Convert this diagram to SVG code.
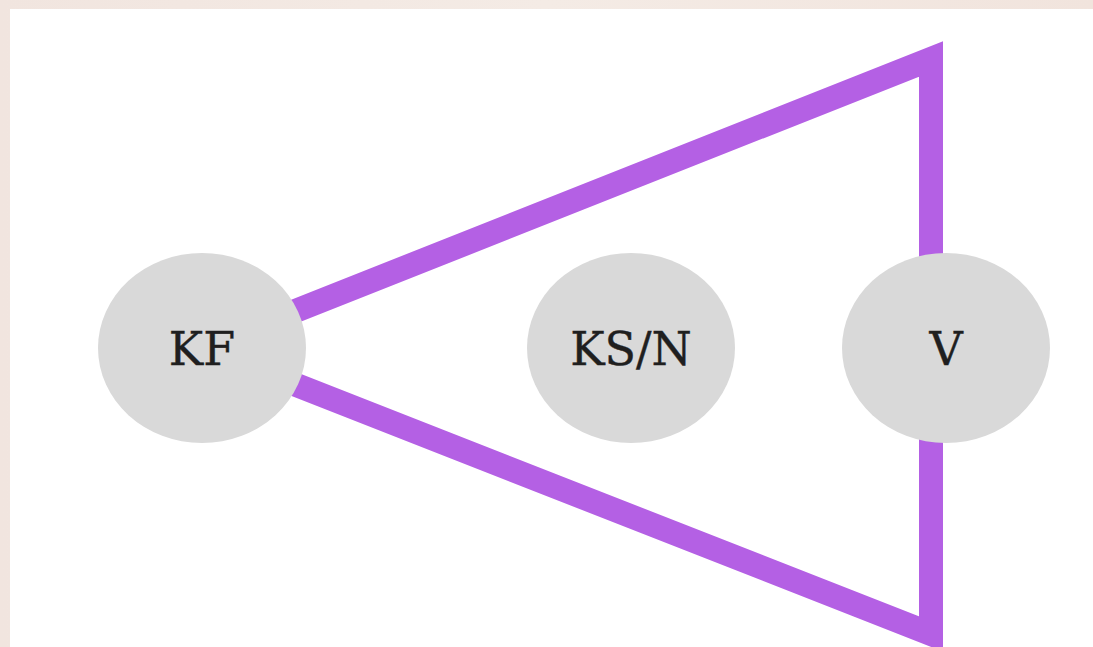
<svg xmlns="http://www.w3.org/2000/svg" width="1093" height="647" viewBox="0 0 1093 647">
<defs>
<style>
.node ellipse{fill:#d9d9d9}
.node text{font-family:"DejaVu Serif","Liberation Serif",serif;font-size:46px;fill:#1f1f1f;text-anchor:middle;stroke:#1f1f1f;stroke-width:0.4}
.edge{fill:none;stroke:#b460e4;stroke-width:24;stroke-linejoin:miter;stroke-miterlimit:10}
</style>
<linearGradient id="bg" x1="0" y1="0" x2="1" y2="0">
<stop offset="0" stop-color="#f1e5df"/>
<stop offset="0.5" stop-color="#f4ebe5"/>
<stop offset="1" stop-color="#f1e4dd"/>
</linearGradient>
</defs>
<rect x="0" y="0" width="1093" height="647" fill="url(#bg)"/>
<rect x="10" y="9" width="1083" height="638" fill="#ffffff"/>
<g id="connectors">
<polyline class="edge" points="202,348 931,59 931,348"/>
<polyline class="edge" points="202,348 931,634 931,348"/>
</g>
<g id="node-kf" class="node">
<ellipse cx="202" cy="348" rx="104" ry="95"/>
<text x="202" y="365">KF</text>
</g>
<g id="node-ksn" class="node">
<ellipse cx="631" cy="348" rx="104" ry="95"/>
<text x="631" y="365">KS/N</text>
</g>
<g id="node-v" class="node">
<ellipse cx="946" cy="348" rx="104" ry="95"/>
<text x="946" y="365">V</text>
</g>
</svg>
